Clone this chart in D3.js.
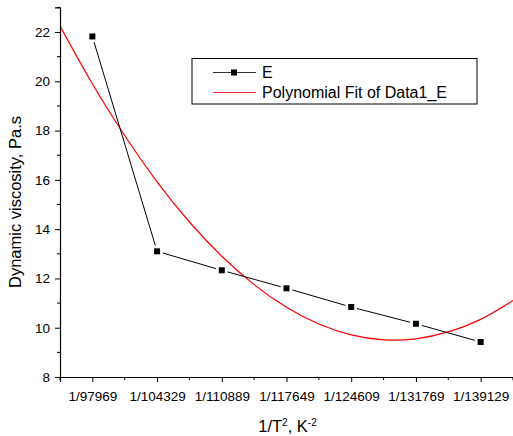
<!DOCTYPE html>
<html>
<head>
<meta charset="utf-8">
<script src="https://cdn.jsdelivr.net/npm/d3@7/dist/d3.min.js"></script>
<style>
  body { margin: 0; background: #fff; }
  text { font-family: "Liberation Sans", Arial, sans-serif; }
</style>
</head>
<body>
<div id="chart"></div>
<script>
// data
var categories = ["1/97969", "1/104329", "1/110889", "1/117649", "1/124609", "1/131769", "1/139129"];
var viscosity = [21.82, 13.1, 12.33, 11.6, 10.84, 10.16, 9.42];
// polynomial fit curve at half-category steps
var fitPos = [-0.5, 0, 0.5, 1, 1.5, 2, 2.5, 3, 3.5, 4, 4.5, 5, 5.5, 6, 6.5];
var fitVal = [22.25, 19.9, 17.8, 15.92, 14.29, 12.9, 11.75, 10.83, 10.15, 9.71, 9.51, 9.55, 9.83, 10.34, 11.1];
var yTicks = [8, 10, 12, 14, 16, 18, 20, 22];
var yMinor = [9, 11, 13, 15, 17, 19, 21, 23];

var W = 513, H = 436;
var plotL = 60, plotR = 513, plotT = 7.4, plotB = 377;

var svg = d3.select("#chart")
  .append("svg")
    .attr("width", W)
    .attr("height", H);

var x = d3.scaleLinear().domain([-0.5, 6.5]).range([plotL, plotR]);
var y = d3.scaleLinear().domain([8, 23]).range([plotB, plotT]);

svg.append("defs").append("clipPath").attr("id", "plot")
  .append("rect")
    .attr("x", plotL).attr("y", plotT)
    .attr("width", plotR - plotL).attr("height", plotB - plotT);

// polynomial fit
var fitData = fitPos.map(function(p, i) { return [p, fitVal[i]]; });
svg.append("path")
  .datum(fitData)
  .attr("clip-path", "url(#plot)")
  .attr("fill", "none")
  .attr("stroke", "#ff0000")
  .attr("stroke-width", 1.2)
  .attr("d", d3.line()
    .x(function(d) { return x(d[0]); })
    .y(function(d) { return y(d[1]); })
    .curve(d3.curveNatural));

// data line, with small gaps next to the markers
var gap = 6;
var segs = d3.pairs(viscosity.map(function(v, i) { return [x(i), y(v)]; }));
svg.append("g")
  .selectAll("line")
  .data(segs)
  .enter()
  .append("line")
    .attr("stroke", "#000")
    .attr("stroke-width", 1)
    .each(function(s) {
      var dx = s[1][0] - s[0][0], dy = s[1][1] - s[0][1];
      var len = Math.sqrt(dx * dx + dy * dy);
      var ux = dx / len, uy = dy / len;
      d3.select(this)
        .attr("x1", s[0][0] + ux * gap).attr("y1", s[0][1] + uy * gap)
        .attr("x2", s[1][0] - ux * gap).attr("y2", s[1][1] - uy * gap);
    });

svg.append("g")
  .selectAll("rect")
  .data(viscosity)
  .enter()
  .append("rect")
    .attr("x", function(d, i) { return x(i) - 3; })
    .attr("y", function(d) { return y(d) - 3; })
    .attr("width", 6)
    .attr("height", 6)
    .attr("fill", "#000");

// axes
var xAxis = svg.append("g")
  .attr("transform", "translate(0," + plotB + ")");
xAxis.call(d3.axisBottom(x)
    .tickValues(d3.range(0, 7))
    .tickSize(5)
    .tickPadding(9)
    .tickFormat(function(d) { return categories[d]; }));
xAxis.append("g").selectAll("line")
  .data([-0.5, 0.5, 1.5, 2.5, 3.5, 4.5, 5.5, 6.5])
  .enter().append("line")
    .attr("x1", function(d) { return x(d); })
    .attr("x2", function(d) { return x(d); })
    .attr("y2", 3)
    .attr("stroke", "#000");

var yAxis = svg.append("g")
  .attr("transform", "translate(" + plotL + ",0)");
yAxis.call(d3.axisLeft(y)
    .tickValues(yTicks)
    .tickSize(5)
    .tickPadding(5));
yAxis.append("g").selectAll("line")
  .data(yMinor)
  .enter().append("line")
    .attr("y1", function(d) { return y(d); })
    .attr("y2", function(d) { return y(d); })
    .attr("x2", -3)
    .attr("stroke", "#000");

svg.selectAll(".domain").attr("stroke", "#000").attr("stroke-width", 1.2);
svg.selectAll(".tick line").attr("stroke", "#000");
svg.selectAll(".tick text")
  .style("font-size", "13.5px")
  .style("font-family", "'Liberation Sans', Arial, sans-serif")
  .attr("fill", "#000");

// axis titles
var xt = svg.append("text")
  .attr("x", (plotL + plotR) / 2 + 1)
  .attr("y", 432)
  .attr("text-anchor", "middle")
  .style("font-size", "16.5px");
xt.append("tspan").text("1/T");
xt.append("tspan").attr("dy", -6).style("font-size", "10px").text("2");
xt.append("tspan").attr("dy", 6).text(", K");
xt.append("tspan").attr("dy", -6).style("font-size", "10px").text("-2");

svg.append("text")
  .attr("transform", "translate(21," + 202 + ") rotate(-90)")
  .attr("text-anchor", "middle")
  .style("font-size", "16.5px")
  .text("Dynamic viscosity, Pa.s");

// legend
var lg = svg.append("g");
lg.append("rect")
  .attr("x", 192).attr("y", 58.5)
  .attr("width", 285).attr("height", 45.5)
  .attr("fill", "#fff")
  .attr("stroke", "#000");
lg.append("line")
  .attr("x1", 213).attr("x2", 256)
  .attr("y1", 72.5).attr("y2", 72.5)
  .attr("stroke", "#333");
lg.append("rect")
  .attr("x", 231).attr("y", 69.5)
  .attr("width", 6).attr("height", 6)
  .attr("fill", "#000");
lg.append("text")
  .attr("x", 262).attr("y", 78)
  .style("font-size", "16px")
  .text("E");
lg.append("line")
  .attr("x1", 213).attr("x2", 256)
  .attr("y1", 92.5).attr("y2", 92.5)
  .attr("stroke", "#ff3333");
lg.append("text")
  .attr("x", 262).attr("y", 98)
  .style("font-size", "16px")
  .text("Polynomial Fit of Data1_E");
</script>
</body>
</html>
